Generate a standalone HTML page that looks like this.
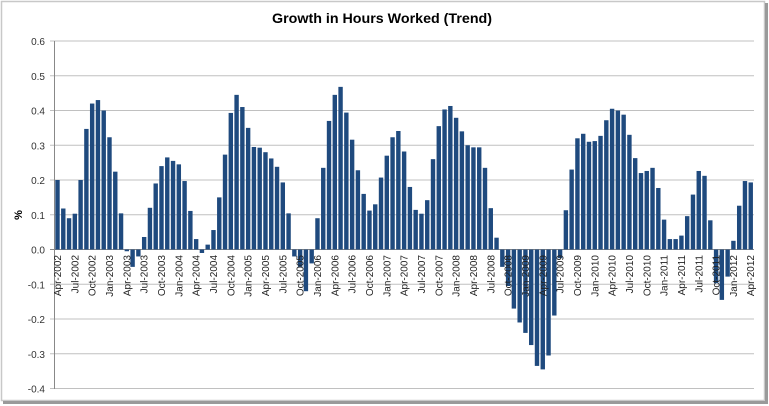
<!DOCTYPE html>
<html><head><meta charset="utf-8"><style>
html,body{margin:0;padding:0;background:#fff;}
svg{display:block;font-family:"Liberation Sans",sans-serif;}
</style></head><body>
<svg id="c" width="769" height="406" xmlns="http://www.w3.org/2000/svg">
<rect x="0" y="0" width="769" height="406" fill="#fff"/>
<rect x="1.5" y="1.5" width="763" height="399" fill="#fff" stroke="#c8c8c8" stroke-width="1.5"/>
<line x1="3" y1="402.5" x2="767" y2="402.5" stroke="#9a9a9a" stroke-width="3"/>
<line x1="766.5" y1="3" x2="766.5" y2="404" stroke="#9a9a9a" stroke-width="3"/>
<text x="382" y="23" text-anchor="middle" font-size="14" font-weight="bold" textLength="220" lengthAdjust="spacingAndGlyphs" fill="#000">Growth in Hours Worked (Trend)</text>
<text transform="translate(22,215) rotate(-90)" text-anchor="middle" font-size="11" font-weight="bold">%</text>
<g id="g"></g>
</svg>
<script>
var v=[.20,.118,.09,.103,.20,.347,.42,.43,.40,
.323,.224,.104,-.005,-.05,-.02,.036,.12,.19,.24,.265,.255,
.245,.197,.111,.03,-.01,.014,.056,.15,.273,.393,.445,.41,
.35,.295,.293,.28,.262,.238,.193,.104,-.02,-.05,-.12,-.04,
.09,.235,.37,.445,.468,.394,.316,.228,.16,.112,.13,.207,
.27,.323,.341,.282,.18,.114,.103,.142,.26,.355,.403,.413,
.379,.34,.30,.294,.294,.235,.119,.034,-.05,-.105,-.17,-.21,
-.24,-.275,-.335,-.345,-.305,-.19,-.025,.113,.23,.32,.333,.31,
.312,.327,.372,.405,.40,.388,.33,.263,.22,.226,.235,.177,
.086,.03,.03,.04,.096,.158,.226,.212,.084,-.097,-.145,-.078,
.025,.126,.197,.193];
var mon=["Jan","Apr","Jul","Oct"];
var s="",y0=249.5,k=347.5;
for(var t=-4;t<=6;t++){var yy=y0-t*34.75;
s+='<line x1="50" x2="754" y1="'+yy+'" y2="'+yy+'" stroke="'+(t==0?'#888':'#c0c0c0')+'" stroke-width="1"/>';
s+='<text x="45" y="'+(yy+4)+'" text-anchor="end" font-size="10" fill="#333">'+(t<0?'-':'')+Math.abs(t/10).toFixed(1)+'</text>';}
s+='<line x1="54.5" x2="54.5" y1="41" y2="389" stroke="#888"/>';
for(var i=0;i<v.length;i++){var x=57.5+i*5.777,h=v[i]*k;
s+='<rect x="'+(x-2.2).toFixed(2)+'" y="'+(h>0?y0-h:y0).toFixed(2)+'" width="4.4" height="'+Math.abs(h).toFixed(2)+'" fill="#1f4a7e"/>';}
for(var i=0;i<v.length;i+=3){var x=57.5+i*5.777,m=(3+i)%12,yr=2002+Math.floor((3+i)/12);
var nm=["Jan","Feb","Mar","Apr","May","Jun","Jul","Aug","Sep","Oct","Nov","Dec"][m];
s+='<text transform="translate('+(x+3.5).toFixed(2)+',255) rotate(-90)" text-anchor="end" font-size="10" fill="#222">'+nm+'-'+yr+'</text>';}
document.getElementById("g").innerHTML=s;
</script>
</body></html>
